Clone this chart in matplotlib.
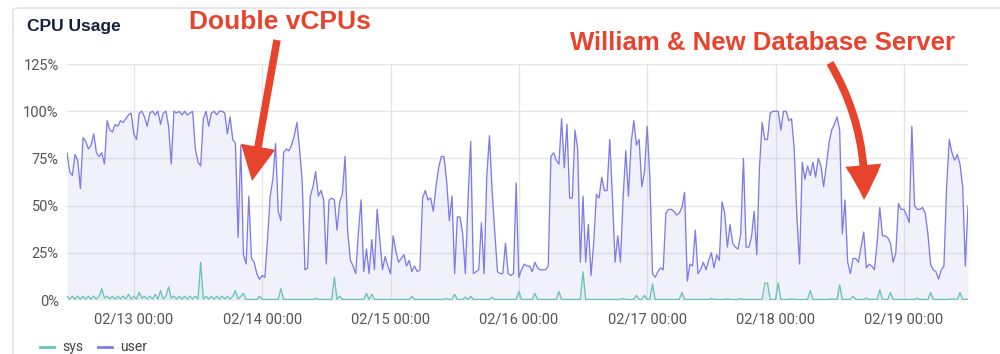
import matplotlib
matplotlib.use("Agg")
import matplotlib.pyplot as plt
import matplotlib.dates as mdates
from matplotlib.patches import FancyArrowPatch, FancyBboxPatch, ArrowStyle
from matplotlib.ticker import FuncFormatter
import pandas as pd

# ---------------- data ----------------
start_time = "2024-02-12 11:30"
step = "30min"

user = [
    78, 68, 66, 77, 74, 59, 86, 84, 80, 82,
    88, 78, 76, 78, 72, 95, 90, 89, 93, 92,
    95, 94, 96, 98, 99, 88, 85, 99, 100, 97,
    92, 99, 100, 98, 100, 93, 99, 100, 92, 72,
    100, 99, 100, 98, 100, 98, 99, 100, 80, 73,
    71, 96, 100, 92, 99, 100, 98, 100, 100, 99,
    88, 97, 85, 83, 33, 82, 24, 19, 55, 22,
    20, 14, 11, 13, 12, 32, 55, 64, 83, 47,
    42, 78, 80, 79, 82, 87, 94, 80, 62, 16,
    17, 55, 60, 68, 55, 58, 53, 19, 53, 54,
    53, 37, 52, 56, 76, 36, 21, 18, 14, 36,
    53, 15, 27, 14, 32, 16, 48, 32, 16, 23,
    18, 14, 34, 26, 20, 22, 24, 18, 21, 15,
    18, 15, 16, 54, 58, 53, 54, 47, 60, 70,
    76, 76, 63, 42, 55, 14, 44, 44, 35, 14,
    53, 84, 14, 15, 16, 41, 14, 65, 87, 58,
    36, 15, 14, 14, 30, 14, 13, 14, 62, 12,
    16, 19, 18, 18, 15, 20, 17, 16, 16, 16,
    18, 76, 78, 74, 72, 96, 70, 93, 54, 54,
    90, 80, 20, 55, 20, 40, 13, 30, 56, 54,
    65, 58, 58, 85, 55, 20, 34, 20, 54, 79,
    55, 83, 95, 82, 85, 60, 68, 92, 65, 14,
    12, 15, 17, 16, 46, 48, 48, 47, 45, 46,
    49, 57, 10, 19, 18, 37, 14, 16, 20, 16,
    21, 25, 17, 24, 21, 52, 46, 28, 40, 30,
    28, 27, 35, 75, 28, 28, 33, 47, 24, 70,
    94, 85, 85, 99, 100, 100, 100, 90, 100, 100,
    95, 96, 80, 44, 19, 73, 64, 71, 66, 73,
    65, 75, 71, 60, 71, 83, 90, 93, 97, 90,
    35, 53, 20, 14, 22, 22, 20, 28, 36, 17,
    19, 18, 16, 30, 49, 34, 34, 33, 30, 20,
    25, 51, 48, 48, 45, 41, 92, 50, 48, 48,
    49, 46, 35, 19, 16, 15, 11, 16, 18, 60,
    85, 78, 74, 77, 72, 60, 18, 50,
]

sys_ = [
    2, 0.5, 2, 0.5, 2, 0.5, 2, 0.5, 2, 0.5,
    2, 0.5, 2, 6, 1, 2, 0.5, 2, 0.5, 2,
    0.5, 2, 0.5, 3, 0.5, 2, 0.5, 4, 1, 2,
    0.5, 2, 0.5, 3, 0.5, 5, 0.5, 2, 7, 1,
    2, 0.5, 2, 0.5, 2, 0.5, 2, 0.5, 2, 0.5,
    20, 0.5, 2, 0.5, 2, 0.5, 2, 0.5, 2, 0.5,
    2, 0.5, 2, 5, 0.5, 2, 3.5, 0.3, 0.3, 0.3,
    0.3, 0.3, 2, 0.3, 0.3, 0.3, 0.3, 0.3, 0.3, 0.3,
    6, 0.3, 0.3, 0.3, 0.3, 0.3, 0.3, 0.3, 0.3, 0.3,
    0.3, 0.3, 0.3, 1, 0.3, 0.3, 0.3, 0.3, 0.3, 0.3,
    12, 0.3, 2, 0.3, 0.3, 0.3, 0.3, 0.3, 0.3, 0.3,
    0.3, 0.3, 3.5, 0.3, 3, 0.3, 0.3, 0.3, 0.3, 0.3,
    0.3, 0.3, 0.3, 0.3, 0.3, 0.3, 0.3, 0.3, 0.3, 2,
    0.3, 0.3, 0.3, 0.3, 0.3, 0.3, 0.3, 0.3, 0.3, 0.3,
    0.3, 0.3, 0.8, 0.3, 0.3, 3, 0.3, 0.3, 0.3, 1.5,
    0.3, 2, 0.3, 0.3, 0.3, 0.3, 0.3, 0.3, 0.3, 1.5,
    0.3, 0.3, 0.3, 0.3, 0.3, 0.3, 0.3, 0.3, 0.3, 4.5,
    0.3, 0.3, 0.3, 0.3, 0.3, 3.5, 0.3, 0.3, 0.3, 0.3,
    0.3, 0.3, 0.3, 0.3, 4.5, 0.3, 0.3, 0.3, 0.3, 0.3,
    0.3, 0.3, 0.3, 15, 0.3, 0.3, 0.3, 0.3, 0.3, 0.3,
    0.3, 0.3, 0.3, 0.3, 0.3, 0.3, 0.3, 0.3, 0.8, 0.3,
    0.3, 0.3, 0.3, 2.5, 0.3, 0.3, 2.5, 0.3, 0.3, 8.5,
    0.3, 0.3, 0.3, 0.3, 0.3, 0.3, 0.3, 0.3, 0.3, 0.3,
    4, 0.3, 0.3, 0.3, 0.3, 0.3, 0.3, 0.3, 0.3, 0.3,
    0.3, 0.8, 0.3, 0.3, 0.3, 0.3, 0.3, 0.7, 0.3, 0.3,
    0.3, 0.3, 0.7, 0.3, 0.3, 0.3, 0.3, 0.3, 0.3, 0.3,
    0.3, 9, 9, 0.3, 0.3, 0.3, 9, 0.3, 0.3, 0.3,
    0.3, 0.7, 0.3, 0.3, 0.3, 0.3, 0.3, 0.3, 5, 0.3,
    0.3, 0.3, 0.3, 0.3, 0.3, 0.3, 0.7, 0.3, 0.3, 8,
    0.3, 0.3, 0.3, 0.3, 2, 0.3, 0.3, 0.3, 0.3, 1,
    0.3, 0.3, 0.3, 0.3, 5.5, 0.3, 0.3, 0.3, 4, 0.3,
    0.3, 0.3, 0.3, 0.3, 0.3, 0.3, 0.3, 0.3, 1, 0.3,
    0.3, 0.3, 0.3, 4, 0.3, 0.3, 0.3, 0.3, 0.3, 0.3,
    0.3, 0.7, 0.3, 0.3, 4, 0.3, 0.3, 0.3,
]

y_ticks = [0, 25, 50, 75, 100, 125]
series_names = ["sys", "user"]
title_text = "CPU Usage"
note1 = "Double vCPUs"
note2 = "William & New Database Server"

times = pd.date_range(start_time, periods=len(user), freq=step)

# ---------------- style ----------------
USER_C = "#7f7ce6"
SYS_C = "#6cc2b8"
RED = "#e8432d"
GRID = "#e6e6e6"
TICK_C = "#555555"
plt.rcParams["font.family"] = ["Roboto", "DejaVu Sans"]

W, H = 1000, 354
fig = plt.figure(figsize=(W / 100, H / 100), dpi=100)
fig.patch.set_facecolor("white")

def fx(px):
    return px / W

def fy(py):
    return (H - py) / H

# panel frame
frame = FancyBboxPatch((fx(13), fy(420)), fx(1100), (420 - 8) / H,
                       boxstyle="round,pad=0,rounding_size=0.006",
                       transform=fig.transFigure, facecolor="none",
                       edgecolor="#dfe4ea", linewidth=1.2)
fig.add_artist(frame)

ax = fig.add_axes([fx(67), fy(300), fx(968 - 67), (300 - 64) / H])
ax.set_facecolor("white")

ax.fill_between(times, user, 0, color=USER_C, alpha=0.10, linewidth=0)
ax.plot(times, user, color=USER_C, linewidth=0.95)
ax.fill_between(times, sys_, 0, color=SYS_C, alpha=0.10, linewidth=0)
ax.plot(times, sys_, color=SYS_C, linewidth=0.95)

ax.set_xlim(times[0], times[-1])
ax.set_ylim(0, 125)
ax.set_yticks(y_ticks)
ax.yaxis.set_major_formatter(FuncFormatter(lambda v, p: f"{int(v)}%"))
ax.xaxis.set_major_locator(mdates.DayLocator())
ax.xaxis.set_major_formatter(mdates.DateFormatter("%m/%d %H:%M"))

ax.grid(True, color=GRID, linewidth=1.0)
ax.set_axisbelow(True)
for s in ax.spines.values():
    s.set_visible(False)
ax.tick_params(axis="both", length=0, colors=TICK_C, labelsize=10.5)
ax.tick_params(axis="y", pad=6)
ax.tick_params(axis="x", pad=9)

# title
fig.text(fx(27), fy(27), title_text, fontsize=12.5, fontweight="bold",
         color="#15203f", va="center", ha="left",
         family=["Liberation Sans", "DejaVu Sans"])

# legend (near the bottom edge)
for (x0, name, c) in [(40, series_names[0], SYS_C), (98, series_names[1], USER_C)]:
    fig.add_artist(plt.Line2D([fx(x0), fx(x0 + 14)], [fy(347), fy(347)],
                              transform=fig.transFigure, color=c, linewidth=2))
    fig.text(fx(x0 + 22), fy(347), name, fontsize=10, color="#444444",
             va="center", ha="left")

# annotations
fig.text(fx(280), fy(22), note1, fontsize=19, fontweight="bold", color=RED,
         ha="center", va="center", family=["Liberation Sans", "DejaVu Sans"])
fig.text(fx(763), fy(43), note2, fontsize=18.5, fontweight="bold", color=RED,
         ha="center", va="center", family=["Liberation Sans", "DejaVu Sans"])

arrow1 = FancyArrowPatch((fx(277), fy(40)), (fx(252), fy(181)),
                         transform=fig.transFigure,
                         arrowstyle=ArrowStyle.Simple(head_length=1.25, head_width=1.25, tail_width=0.27),
                         mutation_scale=20, color=RED, shrinkA=0, shrinkB=0,
                         linewidth=0)
fig.add_artist(arrow1)
arrow2 = FancyArrowPatch((fx(830), fy(63)), (fx(864), fy(200)),
                         transform=fig.transFigure,
                         connectionstyle="arc3,rad=-0.15",
                         arrowstyle=ArrowStyle.Simple(head_length=1.25, head_width=1.3, tail_width=0.28),
                         mutation_scale=20, color=RED, shrinkA=0, shrinkB=0,
                         linewidth=0)
fig.add_artist(arrow2)

fig.savefig("out.png", dpi=100, facecolor="white")
